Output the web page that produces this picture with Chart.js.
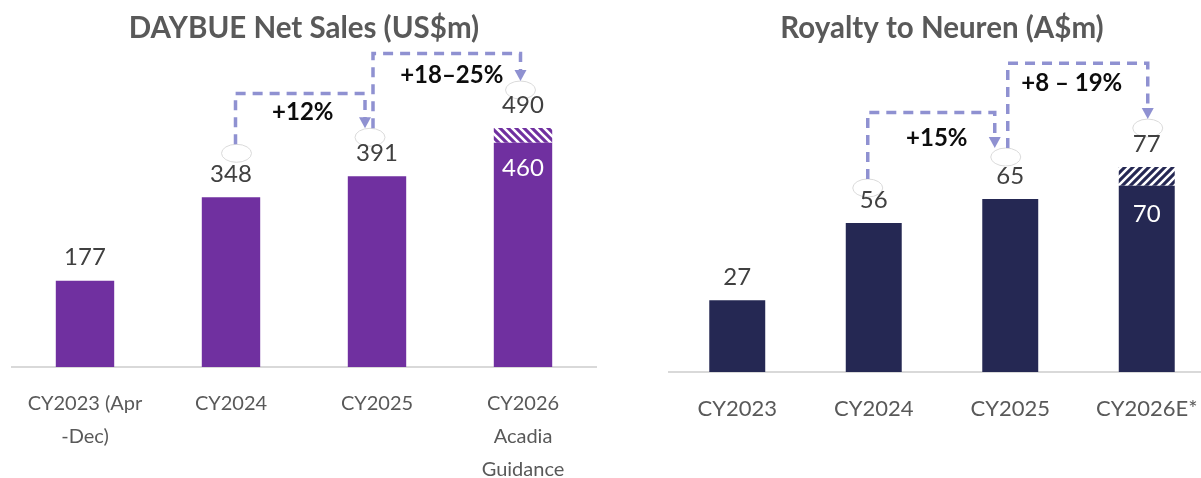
<!DOCTYPE html>
<html>
<head>
<meta charset="utf-8">
<script src="https://cdn.jsdelivr.net/npm/chart.js@4"></script>
<style>
  html, body { margin: 0; padding: 0; background: #fff; overflow: hidden; }
  #wrap { position: relative; width: 1201px; height: 478px; overflow: hidden; }
  #salesChart { position: absolute; left: 0; top: 0; }
  #royaltyChart { position: absolute; left: 640px; top: 0; }
</style>
</head>
<body>
<div id="wrap">
  <canvas id="salesChart" width="600" height="520"></canvas>
  <canvas id="royaltyChart" width="600" height="478"></canvas>
</div>
<script>
// DAYBUE net sales (US$m)
const salesLabels = [['CY2023 (Apr', '-Dec)'], 'CY2024', 'CY2025', ['CY2026', 'Acadia', 'Guidance']]
const salesValues = [177, 348, 391, 460]
const salesUpper = [null, null, null, 490]
const salesGrowth = ['+12%', '+18–25%']

// Royalty to Neuren (A$m)
const royaltyLabels = ['CY2023', 'CY2024', 'CY2025', 'CY2026E*']
const royaltyValues = [27, 56, 65, 70]
const royaltyUpper = [null, null, null, 77]
const royaltyGrowth = ['+15%', '+8 – 19%']

const FONT = 'Lato'

function hatch(color, dir) {
  const c = document.createElement('canvas')
  c.width = 8; c.height = 8
  const g = c.getContext('2d')
  g.fillStyle = color
  g.fillRect(0, 0, 8, 8)
  g.strokeStyle = '#fff'
  g.lineWidth = 2.6
  g.beginPath()
  if (dir > 0) {
    g.moveTo(-1, 9); g.lineTo(9, -1)
    g.moveTo(-3, 3); g.lineTo(3, -3)
    g.moveTo(5, 11); g.lineTo(11, 5)
  } else {
    g.moveTo(-1, -1); g.lineTo(9, 9)
    g.moveTo(-3, 5); g.lineTo(3, 11)
    g.moveTo(5, -3); g.lineTo(11, 3)
  }
  g.stroke()
  return g.createPattern(c, 'repeat')
}

function annotations(opt) {
  return {
    id: 'annotations',
    afterDatasetsDraw(chart) {
      const ctx = chart.ctx
      const y = chart.scales.y
      const bars = chart.getDatasetMeta(0).data
      const labelY = i => y.getPixelForValue(opt.upper[i] != null ? opt.upper[i] : opt.values[i]) - opt.labelDy
      ctx.save()
      ctx.textAlign = 'center'
      ctx.textBaseline = 'middle'

      // callout ellipses
      const ell = {}
      opt.ellipses.forEach(e => {
        const cx = bars[e.i].x + e.dx
        const cy = labelY(e.i) + e.dy
        ell[e.i] = { x: cx, y: cy }
        ctx.beginPath()
        ctx.ellipse(cx, cy, 15, 9, 0, 0, Math.PI * 2)
        ctx.fillStyle = '#fff'
        ctx.fill()
        ctx.strokeStyle = '#dadada'
        ctx.lineWidth = 1
        ctx.stroke()
      })

      // value labels
      ctx.font = '24px ' + FONT
      opt.values.forEach((v, i) => {
        const x = bars[i].x
        if (opt.upper[i] != null) {
          ctx.fillStyle = '#ffffff'
          ctx.fillText(v, x, y.getPixelForValue(v) + opt.insideDy)
          ctx.fillStyle = '#404040'
          ctx.fillText(opt.upper[i], x, labelY(i))
        } else {
          ctx.fillStyle = '#404040'
          ctx.fillText(v, x, labelY(i))
        }
      })

      // growth arrows
      opt.arrows.forEach((a, k) => {
        const x0 = bars[a.from].x + a.fromDx
        const x1 = bars[a.to].x + a.toDx
        const y0 = ell[a.from].y - 9
        const y1 = ell[a.to].y - 9
        const yl = y.getPixelForValue(a.level)
        ctx.strokeStyle = '#8f91d1'
        ctx.fillStyle = '#8f91d1'
        ctx.lineWidth = 3.5
        ctx.setLineDash([10, 7])
        ctx.beginPath()
        ctx.moveTo(x0, y0)
        ctx.lineTo(x0, yl)
        ctx.lineTo(x1, yl)
        ctx.lineTo(x1, y1 - 9)
        ctx.stroke()
        ctx.setLineDash([])
        ctx.beginPath()
        ctx.moveTo(x1 - 6, y1 - 11)
        ctx.lineTo(x1 + 6, y1 - 11)
        ctx.lineTo(x1, y1)
        ctx.closePath()
        ctx.fill()

        ctx.fillStyle = '#0d0d0d'
        ctx.font = 'bold 24px ' + FONT
        ctx.fillText(opt.growth[k], (x0 + x1) / 2 + a.textDx, yl + a.textDy)
      })
      ctx.restore()
    }
  }
}

function makeChart(id, opt) {
  new Chart(document.getElementById(id), {
    type: 'bar',
    data: {
      labels: opt.labels,
      datasets: [{
        data: opt.values,
        backgroundColor: opt.color,
        barPercentage: opt.barPct,
        categoryPercentage: 1
      }, {
        data: opt.upper.map((v, i) => v == null ? null : v - opt.values[i]),
        backgroundColor: hatch(opt.color, opt.hatchDir),
        barPercentage: opt.barPct,
        categoryPercentage: 1
      }]
    },
    options: {
      responsive: false,
      animation: false,
      layout: { padding: opt.padding },
      plugins: {
        legend: { display: false },
        tooltip: { enabled: false },
        title: {
          display: true,
          text: opt.title,
          color: '#595959',
          font: { family: FONT, size: 29.5, weight: 'bold' },
          padding: { top: 10.3, bottom: 4.3 }
        }
      },
      scales: {
        x: {
          stacked: true,
          grid: { display: false, drawTicks: false },
          border: { color: '#d9d9d9', width: 2 },
          ticks: { color: '#595959', padding: 20, font: { family: FONT, size: opt.tickSize, lineHeight: 33 / opt.tickSize } }
        },
        y: { stacked: true, display: false, min: 0, max: opt.max }
      }
    },
    plugins: [annotations(opt)]
  })
}

makeChart('salesChart', {
  title: 'DAYBUE Net Sales (US$m)',
  labels: salesLabels, values: salesValues, upper: salesUpper, growth: salesGrowth,
  color: '#7030a0', hatchDir: -1, barPct: 0.4, max: 650, tickSize: 20,
  padding: { left: 12, right: 4, top: 0, bottom: 14 },
  labelDy: 23, insideDy: 26,
  ellipses: [{ i: 1, dx: 5.5, dy: -21 }, { i: 2, dx: -7, dy: -16 }, { i: 3, dx: -2.5, dy: -15 }],
  arrows: [
    { from: 1, to: 2, fromDx: 4.5, toDx: -12, level: 561, textDx: 2.5, textDy: 19 },
    { from: 2, to: 3, fromDx: -4, toDx: -2.5, level: 643, textDx: 5, textDy: 22 }
  ]
})

makeChart('royaltyChart', {
  title: 'Royalty to Neuren (A$m)',
  labels: royaltyLabels, values: royaltyValues, upper: royaltyUpper, growth: royaltyGrowth,
  color: '#252853', hatchDir: 1, barPct: 0.41, max: 121, tickSize: 22,
  padding: { left: 29, right: 25, top: 0, bottom: 33 },
  labelDy: 23, insideDy: 29,
  ellipses: [{ i: 1, dx: -6, dy: -12 }, { i: 2, dx: -4.5, dy: -19 }, { i: 3, dx: 1, dy: -16 }],
  arrows: [
    { from: 1, to: 2, fromDx: -6, toDx: -15.5, level: 97.5, textDx: 5.5, textDy: 26 },
    { from: 2, to: 3, fromDx: -2.5, toDx: 1, level: 116, textDx: -6, textDy: 20 }
  ]
})
</script>
</body>
</html>
